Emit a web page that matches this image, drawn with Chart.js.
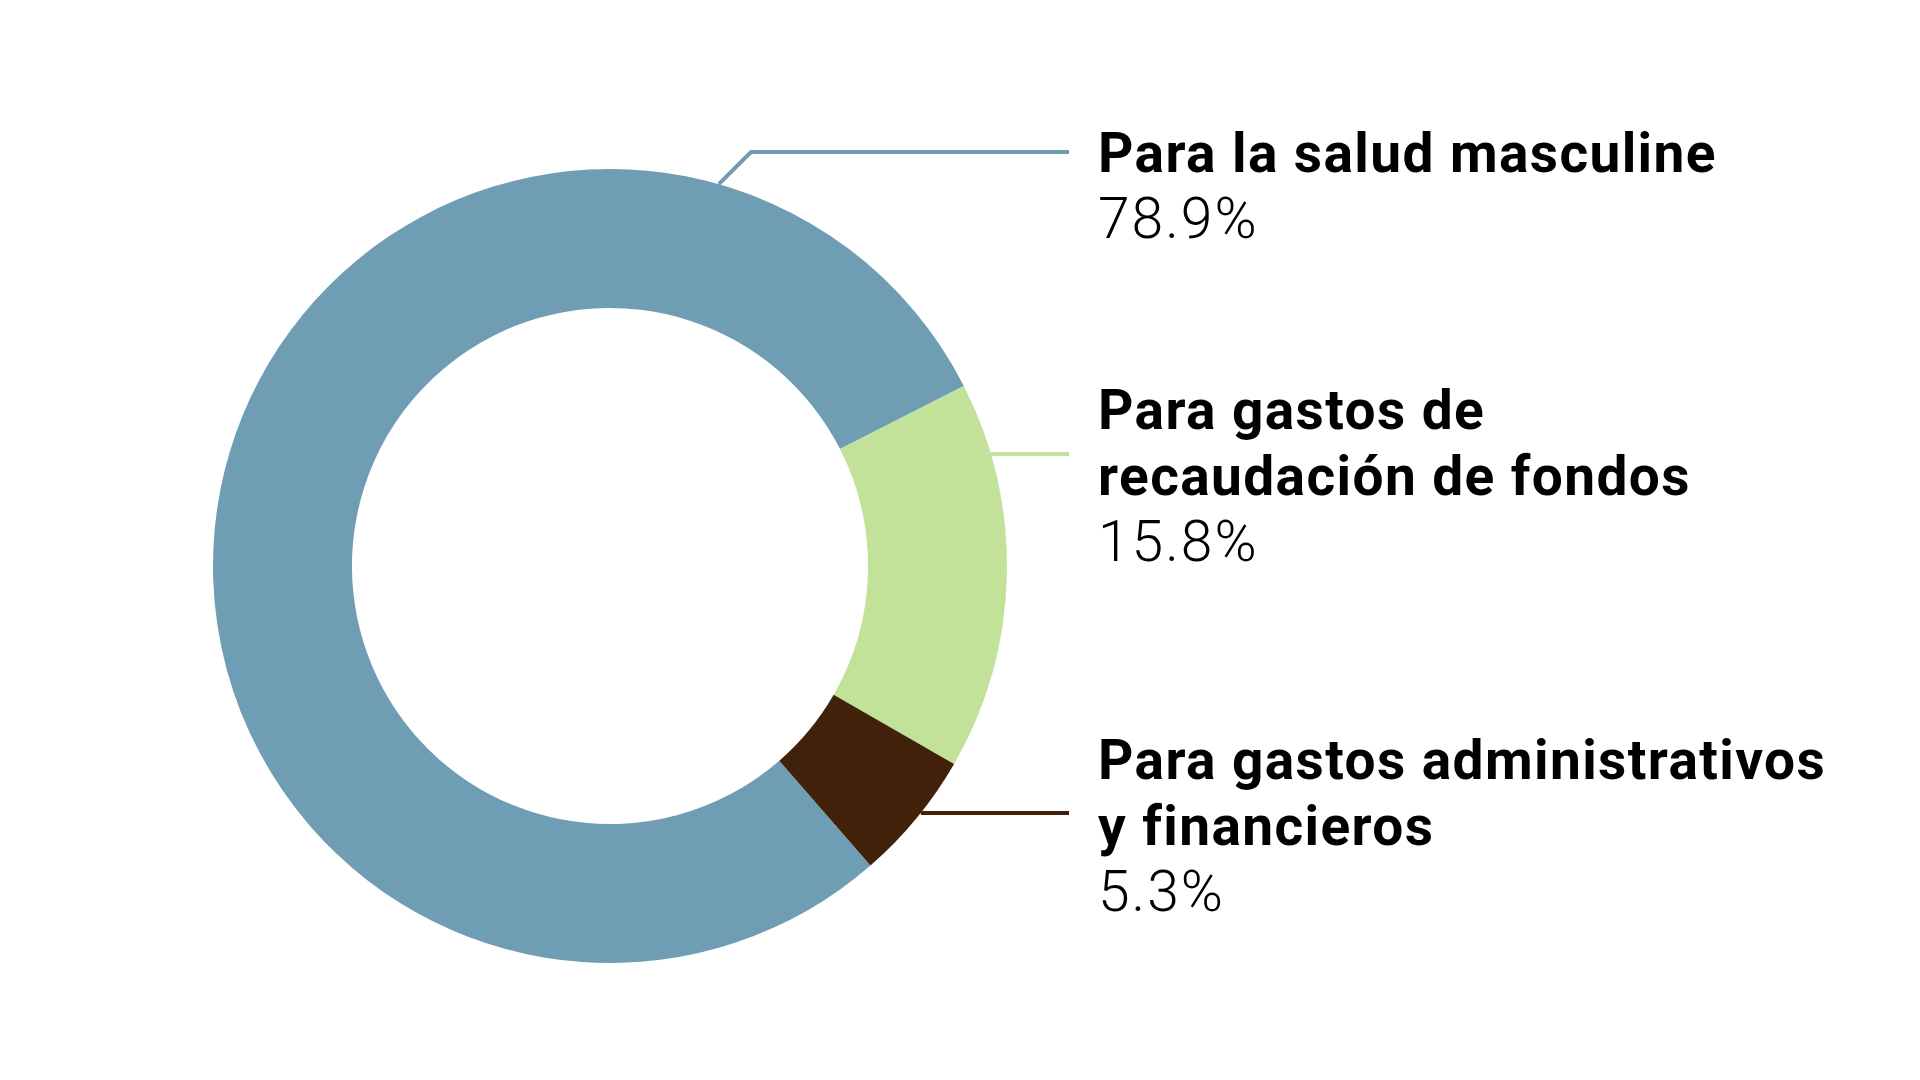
<!DOCTYPE html>
<html lang="es">
<head>
<meta charset="utf-8">
<title>Distribución de fondos</title>
<script src="https://cdn.jsdelivr.net/npm/chart.js@4.4.1/dist/chart.umd.min.js"></script>
<style>
  html, body { margin: 0; padding: 0; background: #ffffff; }
  #wrap { position: relative; width: 1920px; height: 1080px; }
</style>
</head>
<body>
<div id="wrap"><canvas id="donut-chart"></canvas></div>
<script>
// ------------------------------------------------------
// @Data
// ------------------------------------------------------
const categories = [
  ['Para la salud masculine'],
  ['Para gastos de', 'recaudación de fondos'],
  ['Para gastos administrativos', 'y financieros'],
];
const shares = [78.9, 15.8, 5.3];
const shareLabels = ['78.9%', '15.8%', '5.3%'];

// ------------------------------------------------------
// @Style / layout
// ------------------------------------------------------
const COLORS = ['#6f9db3', '#c2e199', '#42210a'];
const TEXT_X = 1098;
const FIRST_BASELINE = [172, 429, 779];
const LINE_HEIGHT = 66;
const LEADER_Y = [152, 454, 813];
const LEADER_END_X = 1069;
const ELBOW_RUN = 318;

// leader lines + labels drawn beside the doughnut
const sideLabels = {
  id: 'sideLabels',
  afterDatasetsDraw(chart) {
    const ctx = chart.ctx;
    const arcs = chart.getDatasetMeta(0).data;

    arcs.forEach((arc, i) => {
      const { x: cx, y: cy, outerRadius: r } = arc.getProps(['x', 'y', 'outerRadius'], true);
      const y = LEADER_Y[i];
      const dy = y - cy;

      ctx.save();
      ctx.strokeStyle = COLORS[i];
      ctx.lineWidth = 4;
      ctx.beginPath();
      if (Math.abs(dy) < r - 30) {
        // horizontal line from the ring edge
        const x0 = cx + Math.sqrt(r * r - dy * dy);
        ctx.moveTo(x0, y);
        ctx.lineTo(LEADER_END_X, y);
      } else {
        // elbow: 45 degree segment down to the ring, then horizontal
        const ex = LEADER_END_X - ELBOW_RUN;
        // point (ex - t, y + t) on the circle
        const a = ex - cx, b = y - cy;
        const B = 2 * (b - a), C = a * a + b * b - r * r;
        const t = (-B - Math.sqrt(B * B - 8 * C)) / 4;
        ctx.moveTo(ex - t, y + t);
        ctx.lineTo(ex, y);
        ctx.lineTo(LEADER_END_X, y);
      }
      ctx.stroke();

      ctx.fillStyle = '#000000';
      ctx.textBaseline = 'alphabetic';
      ctx.textAlign = 'left';
      let base = FIRST_BASELINE[i];
      ctx.font = '700 55px Roboto';
      ctx.letterSpacing = '1.4px';
      categories[i].forEach((line) => {
        ctx.fillText(line, TEXT_X, base);
        base += LINE_HEIGHT;
      });
      ctx.font = '300 57px Roboto';
      ctx.letterSpacing = '2px';
      ctx.fillText(shareLabels[i], TEXT_X, base);
      ctx.restore();
    });
  },
};

const donutBox = document.getElementById('donut-chart');

new Chart(donutBox.getContext('2d'), {
  type: 'doughnut',
  data: {
    labels: categories.map((c) => c.join(' ')),
    datasets: [{
      data            : shares,
      backgroundColor : COLORS,
      borderWidth     : 0,
      hoverOffset     : 0,
    }],
  },
  options: {
    responsive          : true,
    maintainAspectRatio : false,
    animation           : false,
    cutout              : '65%',
    rotation            : 139,
    layout: {
      padding: { left: 213, top: 169, right: 913, bottom: 117 },
    },
    plugins: {
      legend  : { display: false },
      tooltip : { enabled: false },
    },
    events: [],
  },
  plugins: [sideLabels],
});
</script>
</body>
</html>
